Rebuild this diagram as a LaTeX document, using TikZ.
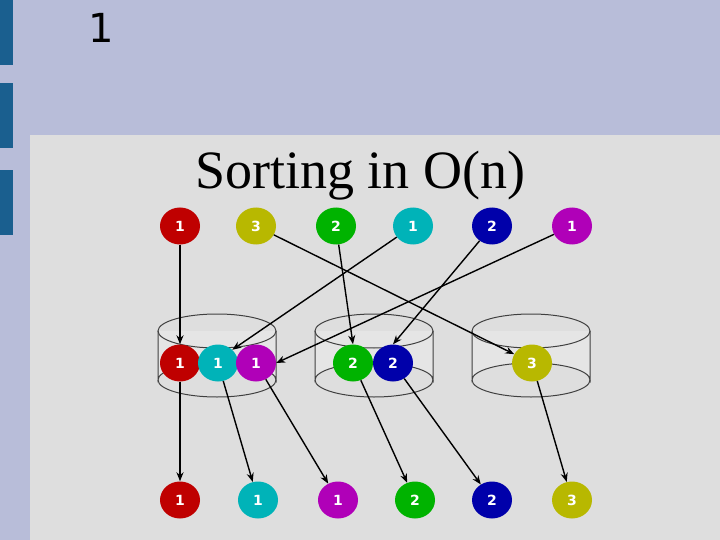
\documentclass[tikz,border=0pt]{standalone}
\usepackage{fontspec}
\setmainfont{Liberation Serif}
\newfontfamily\labelfont{DejaVu Sans}
\usetikzlibrary{positioning, arrows.meta, shapes.geometric}
\definecolor{slidebg}{HTML}{B8BDD9}
\definecolor{barblue}{HTML}{1A5F8F}
\definecolor{panelgray}{HTML}{DEDEDE}
\definecolor{cred}{HTML}{BF0000}
\definecolor{colive}{HTML}{B8B800}
\definecolor{cgreen}{HTML}{00B300}
\definecolor{ccyan}{HTML}{00B3B8}
\definecolor{cblue}{HTML}{0000AA}
\definecolor{cmag}{HTML}{B000B8}
\tikzset{
  key/.style={ellipse, minimum width=40pt, minimum height=37pt, inner sep=0pt,
    text=white, font=\labelfont\bfseries\fontsize{14}{14}\selectfont},
  link/.style={line width=1.4pt, -{Stealth[length=9pt, width=7pt]}},
  bucket/.style={draw=black!75, line width=1pt, fill=white!92!black, fill opacity=0.6}
}
\begin{document}
\begin{tikzpicture}[x=1pt, y=-1pt]
  \useasboundingbox (0,0) rectangle (720,540);
  \fill[slidebg] (0,0) rectangle (720,540);
  \fill[barblue] (0,0) rectangle (13,65);
  \fill[barblue] (0,83) rectangle (13,148);
  \fill[barblue] (0,170) rectangle (13,235);
  \fill[panelgray] (30,135) rectangle (720,540);
  \node (num) at (101,28) {\labelfont\fontsize{40}{40}\selectfont 1};
  \node (title) at (360,176) {\fontsize{54}{54}\selectfont Sorting in O(n)};

  % buckets
  \foreach \cx in {217,374,531} {
    \draw[bucket] (\cx-59,331) -- (\cx-59,380) arc[start angle=180, end angle=360, x radius=59, y radius=17]
      -- (\cx+59,331);
    \draw[draw=black!75, line width=1pt] (\cx,331) ellipse[x radius=59, y radius=17];
    \draw[draw=black!75, line width=1pt] (\cx-59,380) arc[start angle=180, end angle=0, x radius=59, y radius=17];
  }

  % input row
  \node[key, fill=cred]   (in1) at (180,226) {1};
  \node[key, fill=colive] (in2) at (256,226) {3};
  \node[key, fill=cgreen] (in3) at (336,226) {2};
  \node[key, fill=ccyan]  (in4) at (413,226) {1};
  \node[key, fill=cblue]  (in5) at (492,226) {2};
  \node[key, fill=cmag]   (in6) at (572,226) {1};

  % bucket row
  \node[key, fill=cred]   (bk1) at (180,363) {1};
  \node[key, fill=ccyan]  (bk2) at (218,363) {1};
  \node[key, fill=cmag]   (bk3) at (256,363) {1};
  \node[key, fill=cgreen] (bk4) at (353,363) {2};
  \node[key, fill=cblue]  (bk5) at (393,363) {2};
  \node[key, fill=colive] (bk6) at (532,363) {3};

  % output row
  \node[key, fill=cred]   (out1) at (180,500) {1};
  \node[key, fill=ccyan]  (out2) at (258,500) {1};
  \node[key, fill=cmag]   (out3) at (338,500) {1};
  \node[key, fill=cgreen] (out4) at (415,500) {2};
  \node[key, fill=cblue]  (out5) at (492,500) {2};
  \node[key, fill=colive] (out6) at (572,500) {3};

  \draw[link] (in1) -- (bk1.north);
  \draw[link] (in2) -- (bk6);
  \draw[link] (in3) -- (bk4.north);
  \draw[link] (in4) -- (bk2.north east);
  \draw[link] (in5) -- (bk5.north);
  \draw[link] (in6) -- (bk3.east);

  \foreach \i in {1,...,6} {
    \draw[link] (bk\i) -- (out\i);
  }
\end{tikzpicture}
\end{document}
